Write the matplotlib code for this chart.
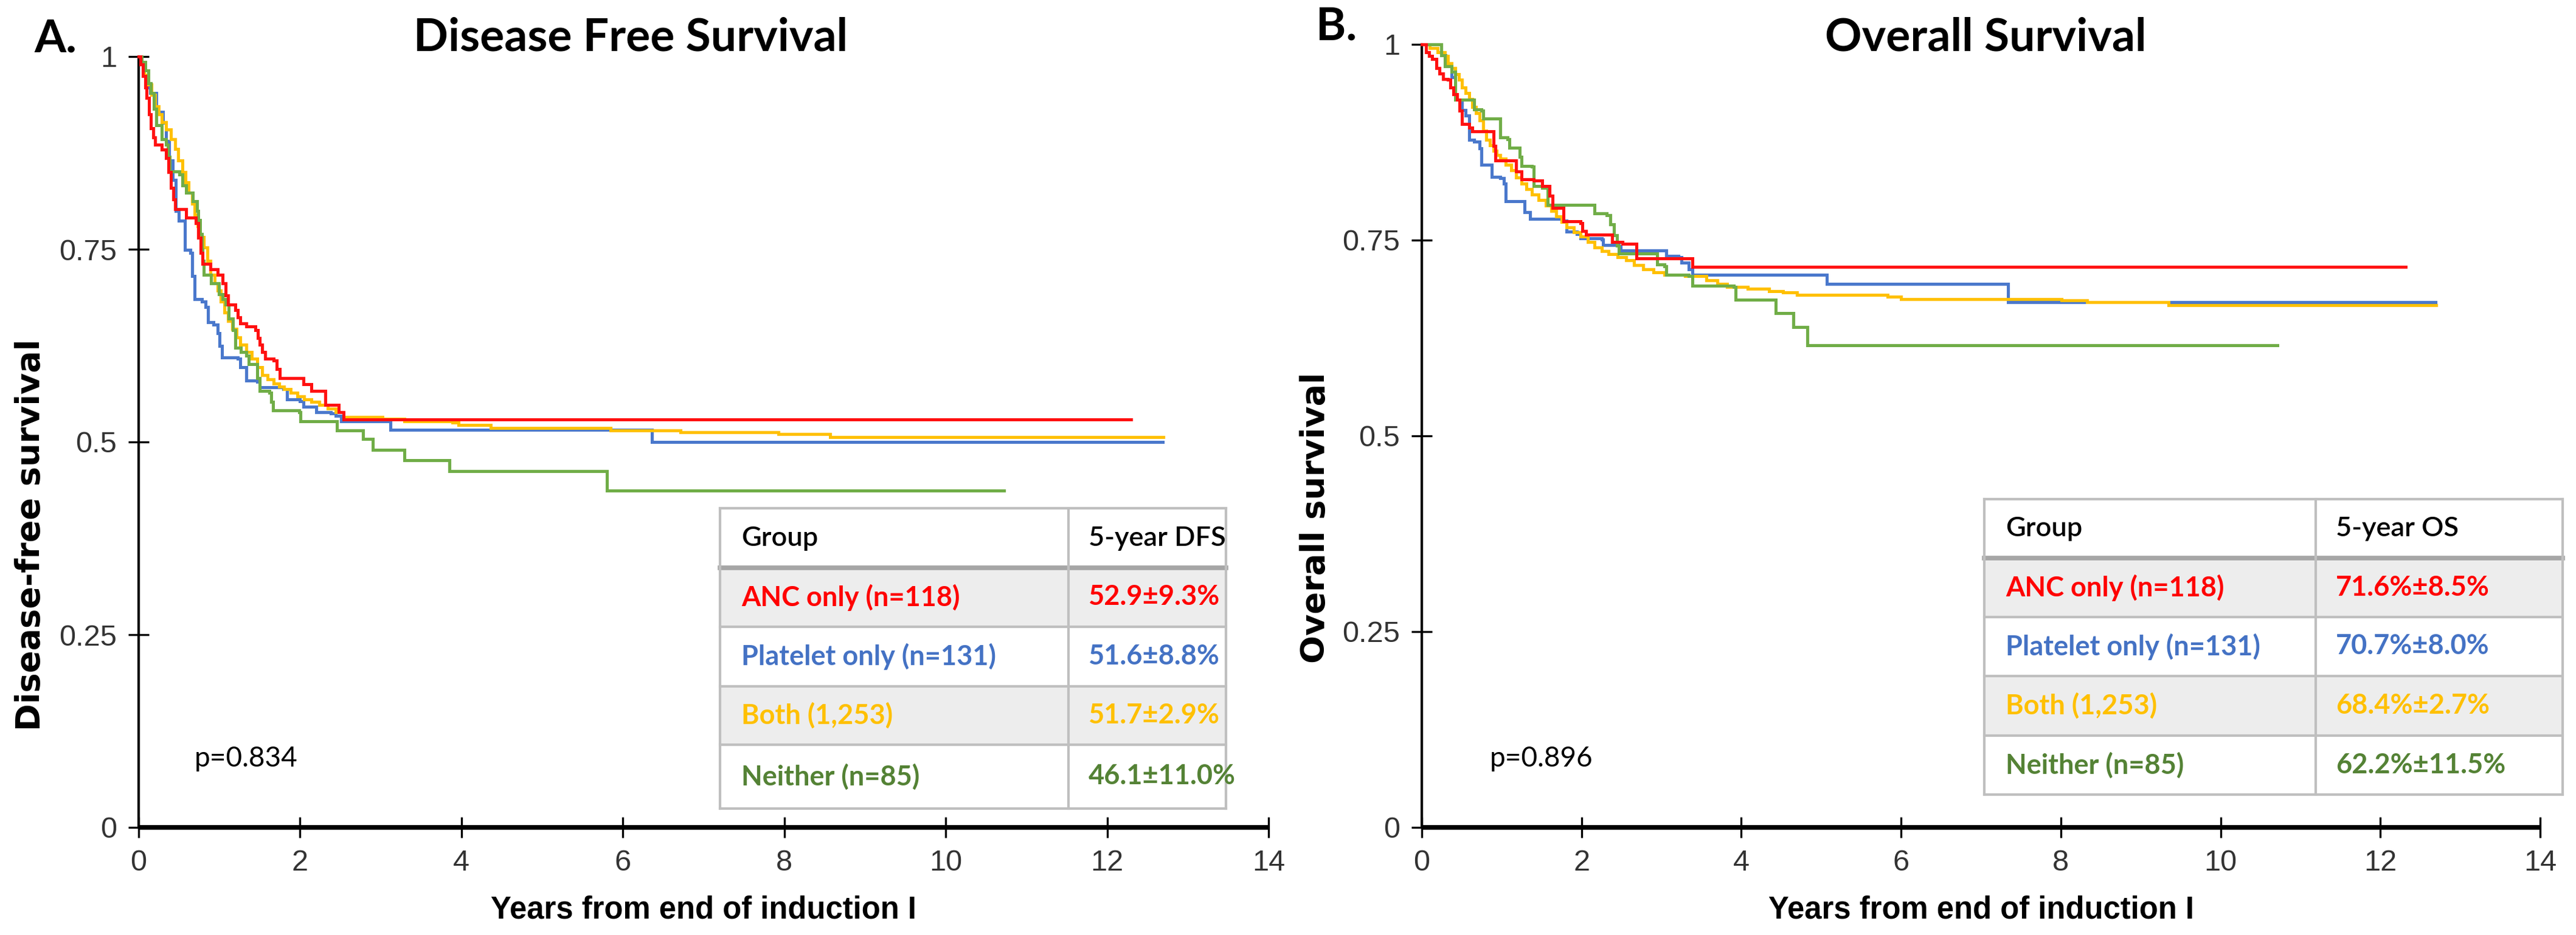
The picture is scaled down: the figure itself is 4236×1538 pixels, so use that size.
import matplotlib
matplotlib.use('Agg')
import matplotlib.pyplot as plt
from matplotlib.patches import Rectangle
from matplotlib.lines import Line2D

plt.rcParams['font.family'] = ['Liberation Sans', 'DejaVu Sans']

# ---------------- data ----------------
x_ticks = [0, 2, 4, 6, 8, 10, 12, 14]
y_ticks = [0, 0.25, 0.5, 0.75, 1]
y_tick_labels = ['0', '0.25', '0.5', '0.75', '1']

groups = ['ANC only (n=118)', 'Platelet only (n=131)', 'Both (1,253)', 'Neither (n=85)']
dfs_5yr = ['52.9±9.3%', '51.6±8.8%', '51.7±2.9%', '46.1±11.0%']
os_5yr = ['71.6%±8.5%', '70.7%±8.0%', '68.4%±2.7%', '62.2%±11.5%']
p_dfs = 'p=0.834'
p_os = 'p=0.896'

# (time, survival) step points: DFS
dfs_red = [(0, 1.0), (0.02, 0.99), (0.05, 0.975), (0.08, 0.96), (0.10, 0.946), (0.13, 0.925),
           (0.15, 0.907), (0.18, 0.895), (0.20, 0.886), (0.29, 0.879), (0.34, 0.868), (0.37, 0.85),
           (0.40, 0.83), (0.43, 0.815), (0.455, 0.802), (0.59, 0.791), (0.71, 0.784), (0.74, 0.765),
           (0.77, 0.745), (0.79, 0.731), (0.89, 0.724), (0.98, 0.717), (1.04, 0.706), (1.08, 0.69),
           (1.11, 0.678), (1.20, 0.671), (1.23, 0.662), (1.26, 0.654), (1.33, 0.65), (1.45, 0.645),
           (1.48, 0.635), (1.50, 0.626), (1.53, 0.617), (1.57, 0.608), (1.67, 0.606), (1.71, 0.595),
           (1.75, 0.583), (2.04, 0.575), (2.14, 0.566), (2.31, 0.548), (2.48, 0.539), (2.54, 0.529),
           (12.3, 0.529)]
dfs_blue = [(0, 1.0), (0.03, 0.99), (0.07, 0.975), (0.11, 0.96), (0.14, 0.953), (0.22, 0.932),
            (0.25, 0.928), (0.30, 0.914), (0.34, 0.89), (0.38, 0.865), (0.42, 0.84), (0.46, 0.80),
            (0.50, 0.787), (0.57, 0.749), (0.64, 0.745), (0.66, 0.715), (0.69, 0.685), (0.78, 0.682),
            (0.83, 0.675), (0.86, 0.655), (0.93, 0.652), (0.98, 0.641), (1.00, 0.625), (1.03, 0.61),
            (1.23, 0.608), (1.26, 0.597), (1.33, 0.58), (1.47, 0.578), (1.50, 0.571), (1.79, 0.569),
            (1.84, 0.555), (2.00, 0.553), (2.04, 0.546), (2.20, 0.539), (2.38, 0.537), (2.44, 0.534),
            (2.51, 0.527), (3.12, 0.516), (6.36, 0.50), (12.69, 0.50)]
dfs_yellow = [(0, 1.0), (0.03, 0.99), (0.07, 0.976), (0.12, 0.964), (0.16, 0.95), (0.20, 0.935),
              (0.25, 0.925), (0.29, 0.915), (0.34, 0.905), (0.40, 0.893), (0.45, 0.88), (0.49, 0.865),
              (0.54, 0.85), (0.58, 0.837), (0.62, 0.823), (0.66, 0.809), (0.69, 0.795), (0.73, 0.78),
              (0.76, 0.766), (0.81, 0.752), (0.85, 0.735), (0.89, 0.717), (0.94, 0.706), (0.98, 0.696),
              (1.02, 0.682), (1.06, 0.668), (1.11, 0.657), (1.16, 0.647), (1.21, 0.636), (1.26, 0.626),
              (1.33, 0.617), (1.40, 0.608), (1.47, 0.597), (1.53, 0.587), (1.60, 0.581), (1.67, 0.576),
              (1.74, 0.572), (1.80, 0.569), (1.88, 0.564), (1.97, 0.559), (2.05, 0.555), (2.14, 0.552),
              (2.24, 0.548), (2.34, 0.543), (2.44, 0.539), (2.54, 0.532), (3.02, 0.53), (3.29, 0.527),
              (3.89, 0.525), (3.96, 0.522), (4.36, 0.518), (5.85, 0.515), (6.71, 0.513), (7.93, 0.51),
              (8.57, 0.506), (12.7, 0.506)]
dfs_green = [(0, 1.0), (0.04, 0.993), (0.08, 0.982), (0.12, 0.965), (0.15, 0.953), (0.185, 0.932),
             (0.22, 0.911), (0.29, 0.893), (0.337, 0.886), (0.36, 0.87), (0.387, 0.851), (0.505, 0.847),
             (0.539, 0.833), (0.59, 0.823), (0.674, 0.812), (0.724, 0.80), (0.741, 0.788), (0.76, 0.77),
             (0.78, 0.75), (0.792, 0.735), (0.809, 0.717), (0.893, 0.706), (0.994, 0.692), (1.04, 0.685),
             (1.078, 0.678), (1.112, 0.66), (1.17, 0.645), (1.196, 0.622), (1.263, 0.617), (1.331, 0.612),
             (1.364, 0.601), (1.466, 0.583), (1.5, 0.566), (1.617, 0.564), (1.64, 0.552), (1.668, 0.541),
             (1.988, 0.539), (2.005, 0.527), (2.46, 0.515), (2.78, 0.504), (2.9, 0.49), (3.29, 0.476),
             (3.85, 0.462), (5.8, 0.437), (10.72, 0.437)]

# OS
os_red = [(0, 1.0), (0.05, 0.99), (0.09, 0.985), (0.133, 0.981), (0.18, 0.97), (0.221, 0.963),
          (0.264, 0.956), (0.329, 0.955), (0.36, 0.945), (0.395, 0.936), (0.439, 0.929), (0.47, 0.915),
          (0.504, 0.898), (0.592, 0.894), (0.635, 0.889), (0.897, 0.87), (0.919, 0.852), (1.18, 0.838),
          (1.246, 0.828), (1.399, 0.826), (1.509, 0.819), (1.596, 0.807), (1.639, 0.791), (1.77, 0.774),
          (1.988, 0.772), (2.01, 0.762), (2.054, 0.757), (2.381, 0.748), (2.512, 0.745), (2.687, 0.727),
          (3.385, 0.716), (12.32, 0.716)]
os_blue = [(0, 1.0), (0.242, 0.986), (0.30, 0.98), (0.329, 0.976), (0.373, 0.958), (0.417, 0.929),
           (0.504, 0.916), (0.548, 0.909), (0.592, 0.878), (0.657, 0.876), (0.723, 0.867), (0.744, 0.846),
           (0.875, 0.831), (0.984, 0.829), (1.028, 0.822), (1.05, 0.80), (1.29, 0.786), (1.356, 0.777),
           (1.77, 0.775), (1.814, 0.761), (1.945, 0.758), (1.988, 0.752), (2.25, 0.751), (2.272, 0.744),
           (2.469, 0.742), (2.49, 0.737), (3.058, 0.73), (3.21, 0.728), (3.254, 0.721), (3.342, 0.713),
           (3.385, 0.706), (5.07, 0.694), (7.34, 0.671), (12.69, 0.671)]
os_yellow = [(0, 1.0), (0.1, 0.995), (0.2, 0.99), (0.286, 0.985), (0.33, 0.976), (0.373, 0.97),
             (0.42, 0.962), (0.461, 0.955), (0.5, 0.945), (0.548, 0.938), (0.59, 0.93), (0.635, 0.92),
             (0.68, 0.912), (0.723, 0.903), (0.77, 0.89), (0.81, 0.878), (0.85, 0.871), (0.897, 0.864),
             (0.94, 0.859), (0.984, 0.854), (1.05, 0.846), (1.116, 0.839), (1.18, 0.83), (1.246, 0.822),
             (1.31, 0.815), (1.377, 0.808), (1.46, 0.801), (1.552, 0.794), (1.62, 0.787), (1.683, 0.78),
             (1.75, 0.773), (1.814, 0.766), (1.9, 0.76), (1.988, 0.755), (2.08, 0.748), (2.163, 0.741),
             (2.25, 0.736), (2.338, 0.732), (2.45, 0.728), (2.556, 0.724), (2.66, 0.718), (2.774, 0.713),
             (2.9, 0.709), (3.036, 0.706), (3.298, 0.704), (3.56, 0.699), (3.7, 0.694), (3.822, 0.69),
             (4.084, 0.688), (4.346, 0.685), (4.52, 0.683), (4.695, 0.68), (5.83, 0.678), (6.0, 0.675),
             (8.01, 0.673), (8.33, 0.671), (9.35, 0.667), (12.7, 0.667)]
os_green = [(0, 1.0), (0.242, 0.986), (0.286, 0.972), (0.373, 0.965), (0.417, 0.929), (0.657, 0.917),
            (0.744, 0.915), (0.766, 0.905), (0.984, 0.881), (1.072, 0.879), (1.094, 0.868), (1.225, 0.856),
            (1.246, 0.845), (1.377, 0.844), (1.399, 0.819), (1.509, 0.817), (1.574, 0.795), (2.163, 0.784),
            (2.316, 0.782), (2.36, 0.77), (2.403, 0.756), (2.447, 0.743), (2.469, 0.733), (2.949, 0.719),
            (3.036, 0.717), (3.058, 0.706), (3.342, 0.704), (3.385, 0.692), (3.909, 0.69), (3.931, 0.674),
            (4.433, 0.657), (4.651, 0.639), (4.826, 0.616), (10.71, 0.616)]

line_colors = {'red': '#FF1010', 'blue': '#4A78CC', 'yellow': '#FFC000', 'green': '#70AD47'}
text_colors = ['#FF0000', '#4472C4', '#FFC000', '#548235']

# ---------------- figure ----------------
W, H = 4236, 1538
fig = plt.figure(figsize=(W / 100, H / 100), dpi=100)
fig.patch.set_facecolor('white')


def fx(px):
    return px / W


def fy(py):
    return 1 - py / H


def make_ax(l, r, t, b):
    return fig.add_axes([fx(l), fy(b), (r - l) / W, (b - t) / H])


axA = make_ax(228, 2086, 93, 1361)
axB = make_ax(2338, 4177, 73, 1361)


def style(ax):
    ax.set_xlim(0, 14)
    ax.set_ylim(0, 1)
    ax.spines['top'].set_visible(False)
    ax.spines['right'].set_visible(False)
    ax.spines['left'].set_linewidth(3.0)
    ax.spines['bottom'].set_linewidth(5.5)
    ax.spines['bottom'].set_capstyle('butt')
    ax.set_xticks(x_ticks)
    ax.set_xticklabels([str(v) for v in x_ticks])
    ax.set_yticks(y_ticks)
    ax.set_yticklabels(y_tick_labels)
    ax.tick_params(direction='inout', length=24, width=2.4, labelsize=35,
                   colors='black', labelcolor='#333333')
    ax.tick_params(axis='x', pad=14)
    ax.tick_params(axis='y', pad=14)
    ax.set_facecolor('none')


def draw_curves(ax, series):
    for pts, key in series:
        t = [p[0] for p in pts]
        s = [p[1] for p in pts]
        ax.step(t, s, where='post', color=line_colors[key], lw=3.6, clip_on=False,
                solid_joinstyle='miter', zorder=3)


style(axA)
style(axB)
draw_curves(axA, [(dfs_blue, 'blue'), (dfs_yellow, 'yellow'), (dfs_green, 'green'), (dfs_red, 'red')])
draw_curves(axB, [(os_blue, 'blue'), (os_yellow, 'yellow'), (os_green, 'green'), (os_red, 'red')])

axA.set_xlabel('Years from end of induction I', fontsize=36.5, fontweight='bold', labelpad=22)
axB.set_xlabel('Years from end of induction I', fontsize=36.5, fontweight='bold', labelpad=22)

ylab_family = ['DejaVu Sans']
fig.text(fx(50), fy(880), 'Disease-free survival', rotation=90, ha='center', va='center',
         fontsize=39, fontweight='bold', family=ylab_family)
fig.text(fx(2163), fy(852), 'Overall survival', rotation=90, ha='center', va='center',
         fontsize=39, fontweight='bold', family=ylab_family)

axA.text(0.69, 0.089, p_dfs, fontsize=33, va='center', ha='left', family=['Lato', 'DejaVu Sans'])
axB.text(0.85, 0.088, p_os, fontsize=33, va='center', ha='left', family=['Lato', 'DejaVu Sans'])

title_family = ['Lato', 'DejaVu Sans']
fig.text(fx(1037), fy(62), 'Disease Free Survival', ha='center', va='center', fontsize=54,
         fontweight='bold', family=title_family)
fig.text(fx(3265), fy(62), 'Overall Survival', ha='center', va='center', fontsize=54,
         fontweight='bold', family=title_family)
fig.text(fx(91), fy(64), 'A.', ha='center', va='center', fontsize=54, fontweight='bold',
         family=title_family)
fig.text(fx(2198), fy(44), 'B.', ha='center', va='center', fontsize=54, fontweight='bold',
         family=title_family)


def draw_table(left, col, right, ys, header2, values):
    tr = fig.transFigure
    for i in range(5):
        top, bot = ys[i], ys[i + 1]
        fc = '#EDEDED' if i in (1, 3) else 'white'
        fig.patches.append(Rectangle((fx(left), fy(bot)), (right - left) / W, (bot - top) / H,
                                     transform=tr, facecolor=fc, edgecolor='none', zorder=5))
    lc = '#BFBFBF'
    for i, yv in enumerate(ys):
        lw = 5.5 if i == 1 else 3.0
        col_ = '#A6A6A6' if i == 1 else lc
        fig.lines.append(Line2D([fx(left), fx(right)], [fy(yv), fy(yv)], transform=tr,
                                color=col_, lw=lw, zorder=6))
    for xv in (left, col, right):
        fig.lines.append(Line2D([fx(xv), fx(xv)], [fy(ys[0]), fy(ys[-1])], transform=tr,
                                color=lc, lw=3.0, zorder=6))
    fam = ['Lato', 'DejaVu Sans']
    fs = 32.5
    yc = (ys[0] + ys[1]) / 2
    fig.text(fx(left + 35), fy(yc), 'Group', ha='left', va='center', fontsize=fs,
             family=fam, color='black', fontweight='semibold', zorder=7)
    fig.text(fx(col + 33), fy(yc), header2, ha='left', va='center', fontsize=fs,
             family=fam, color='black', fontweight='semibold', zorder=7)
    for i in range(4):
        yc = (ys[i + 1] + ys[i + 2]) / 2
        fig.text(fx(left + 35), fy(yc), groups[i], ha='left', va='center', fontsize=fs,
                 family=fam, color=text_colors[i], fontweight='bold', zorder=7)
        fig.text(fx(col + 33), fy(yc), values[i], ha='left', va='center', fontsize=fs,
                 family=fam, color=text_colors[i], fontweight='bold', zorder=7)


draw_table(1184, 1757, 2016, [836, 934, 1031, 1129, 1225, 1330], '5-year DFS', dfs_5yr)
draw_table(3263, 3808, 4214, [821, 918, 1015, 1112, 1210, 1307], '5-year OS', os_5yr)

fig.savefig('out.png', dpi=100, facecolor='white')
